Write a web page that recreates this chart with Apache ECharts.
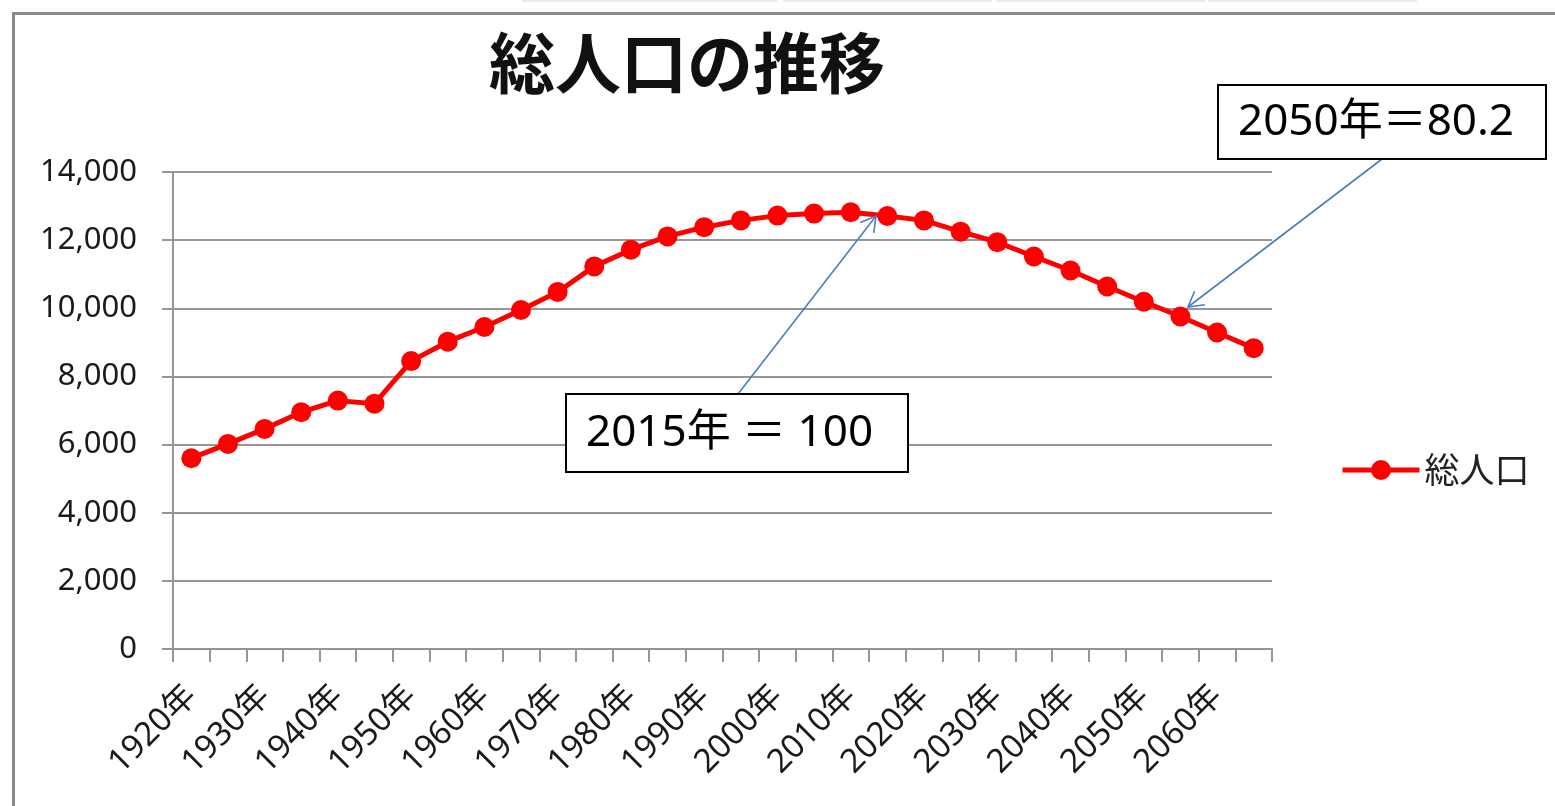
<!DOCTYPE html>
<html>
<head>
<meta charset="utf-8">
<script src="https://cdn.jsdelivr.net/npm/echarts@6/dist/echarts.min.js"></script>
<style>
  html, body { margin: 0; padding: 0; background: #ffffff; }
  #main { width: 1555px; height: 806px; }
</style>
</head>
<body>
<div id="main"></div>
<script>
// 総人口（単位：万人）, 5-year steps
const years = [1920, 1925, 1930, 1935, 1940, 1945, 1950, 1955, 1960, 1965,
               1970, 1975, 1980, 1985, 1990, 1995, 2000, 2005, 2010, 2015,
               2020, 2025, 2030, 2035, 2040, 2045, 2050, 2055, 2060, 2065];
const categories = years.map(y => y + '年');
const population = [5600, 6020, 6460, 6950, 7290, 7200, 8450, 9020, 9450, 9950,
                    10480, 11230, 11720, 12110, 12380, 12580, 12720, 12780, 12820, 12709,
                    12580, 12250, 11940, 11520, 11110, 10640, 10192, 9760, 9290, 8830];
const seriesName = '総人口';
const titleText = '総人口の推移';
const yMin = 0, yMax = 14000, yStep = 2000;

// index (2015 = 100)
const baseYear = 2015, compareYear = 2050;
const baseValue = population[years.indexOf(baseYear)];
const compareIndex = (population[years.indexOf(compareYear)] / baseValue * 100).toFixed(1);
const baseLabel = baseYear + '年 ＝ 100';
const compareLabel = compareYear + '年＝' + compareIndex;

const latin = "'Noto Sans', 'Noto Sans CJK JP', sans-serif";
const gridGray = '#969696';
const arrowBlue = '#4a7ebb';
const red = '#ff0000';

function arrow(x1, y1, x2, y2) {
  const ang = Math.atan2(y1 - y2, x1 - x2);
  const len = 17, spread = Math.PI / 6;
  const h1 = [x2 + len * Math.cos(ang + spread), y2 + len * Math.sin(ang + spread)];
  const h2 = [x2 + len * Math.cos(ang - spread), y2 + len * Math.sin(ang - spread)];
  const style = { stroke: arrowBlue, lineWidth: 1.6, fill: null };
  return [
    { type: 'polyline', silent: true, z: 20, shape: { points: [[x1, y1], [x2, y2]] }, style },
    { type: 'polyline', silent: true, z: 20, shape: { points: [h1, [x2, y2], h2] }, style }
  ];
}

function callout(x, y, w, h, text) {
  return [
    { type: 'rect', silent: true, z: 21, shape: { x, y, width: w, height: h },
      style: { fill: '#ffffff', stroke: '#000000', lineWidth: 2 } },
    { type: 'text', silent: true, z: 22, x: x + 20, y: y + h / 2,
      style: { text, font: '44px ' + latin, fill: '#000000', verticalAlign: 'middle', align: 'left' } }
  ];
}

const chart = echarts.init(document.getElementById('main'), null, { renderer: 'canvas' });

chart.setOption({
  animation: false,
  backgroundColor: '#ffffff',
  title: {
    text: titleText,
    left: 489,
    top: 30,
    padding: 0,
    textStyle: {
      fontFamily: "'Noto Sans CJK JP', sans-serif",
      fontWeight: 'bold',
      fontSize: 66,
      color: '#111111'
    }
  },
  legend: {
    orient: 'vertical',
    left: 1340,
    top: 451,
    padding: 0,
    itemWidth: 77,
    itemHeight: 25,
    lineStyle: { width: 5, color: red },
    itemStyle: { color: red },
    textStyle: {
      fontFamily: "'Noto Sans CJK JP', sans-serif",
      fontSize: 35,
      lineHeight: 38,
      color: '#222222'
    },
    data: [seriesName]
  },
  grid: { left: 173, top: 172, width: 1099, height: 477, containLabel: false },
  xAxis: {
    type: 'category',
    data: categories,
    boundaryGap: true,
    axisLine: { show: true, lineStyle: { color: gridGray, width: 2 } },
    axisTick: { show: true, interval: 0, alignWithLabel: false, length: 13,
                lineStyle: { color: gridGray, width: 2 } },
    axisLabel: {
      interval: 1,
      rotate: 45,
      margin: 42,
      fontFamily: latin,
      fontSize: 33,
      color: '#1a1a1a'
    },
    splitLine: { show: false }
  },
  yAxis: {
    type: 'value',
    min: yMin,
    max: yMax,
    interval: yStep,
    axisLine: { show: true, lineStyle: { color: gridGray, width: 2 } },
    axisTick: { show: true, length: 11, lineStyle: { color: gridGray, width: 2 } },
    axisLabel: {
      margin: 36,
      fontFamily: latin,
      fontSize: 31,
      color: '#1a1a1a',
      formatter: v => v.toLocaleString('en-US')
    },
    splitLine: { show: true, lineStyle: { color: gridGray, width: 2 } }
  },
  series: [{
    name: seriesName,
    type: 'line',
    data: population,
    symbol: 'circle',
    symbolSize: 20,
    lineStyle: { color: red, width: 5 },
    itemStyle: { color: red },
    emphasis: { disabled: true }
  }],
  graphic: [
    // outer frame of the chart area
    { type: 'rect', silent: true, z: 0, shape: { x: 13.5, y: 13.5, width: 1600, height: 900 },
      style: { fill: null, stroke: '#8a8a8a', lineWidth: 3 } },
    // thin strip along the top edge
    { type: 'rect', silent: true, shape: { x: 522, y: 0, width: 256, height: 2 }, style: { fill: '#e8ebf4' } },
    { type: 'rect', silent: true, shape: { x: 783, y: 0, width: 209, height: 2 }, style: { fill: '#e8ebf4' } },
    { type: 'rect', silent: true, shape: { x: 996, y: 0, width: 209, height: 2 }, style: { fill: '#e8ebf4' } },
    { type: 'rect', silent: true, shape: { x: 1208, y: 0, width: 209, height: 2 }, style: { fill: '#e8ebf4' } },
    ...arrow(738, 394, 876, 216),
    ...arrow(1382, 159, 1188, 307),
    ...callout(566, 394, 342, 78, baseLabel),
    ...callout(1218, 85, 328, 74, compareLabel)
  ]
});
</script>
</body>
</html>
